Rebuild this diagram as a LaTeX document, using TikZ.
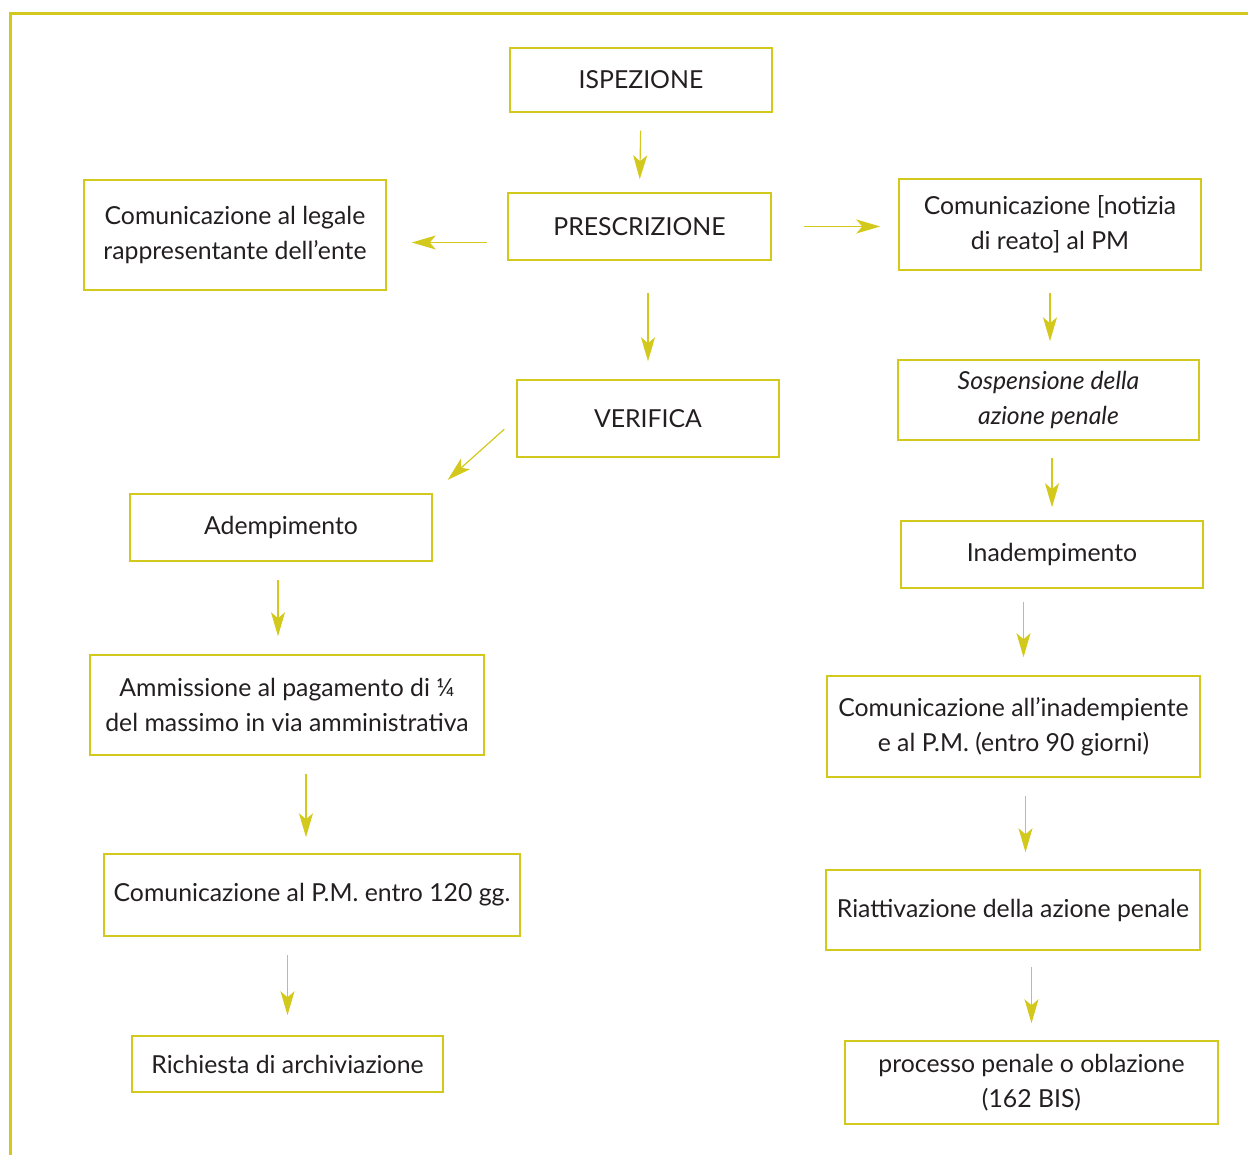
\documentclass[tikz,border=0pt]{standalone}
\usepackage{fontspec}
\setmainfont{Lato}
\usetikzlibrary{arrows.meta}
\definecolor{lime}{RGB}{210,201,28}
\definecolor{ink}{RGB}{35,31,32}

\begin{document}
\begin{tikzpicture}[x=0.5pt,y=-0.5pt,
  box/.style={draw=lime,line width=0.75pt,align=center,inner sep=0pt,text=ink,
    font=\fontsize{12.4}{17.5}\selectfont},
  arr/.style={draw=lime,line width=0.6pt,-{Stealth[length=12pt,width=7pt,inset=3pt]},
    shorten <=9pt,shorten >=9pt}]
\useasboundingbox (0,0) rectangle (1248,1155);
\draw[lime,line width=1.35pt] (10.5,1155) -- (10.5,13.7) -- (1248,13.7);

\node[box,minimum width=131pt,minimum height=32pt] (isp) at (641,80) {ISPEZIONE};
\node[box,minimum width=131.5pt,minimum height=33.5pt] (presc) at (639.5,226.5) {PRESCRIZIONE};
\node[box,minimum width=151pt,minimum height=55pt] (leg) at (235,235) {Comunicazione al legale\\rappresentante dell’ente};
\node[box,minimum width=151pt,minimum height=45.5pt] (pm) at (1050,224.5) {Comunicazione [notizia\\di reato] al PM};
\node[box,minimum width=131pt,minimum height=38.5pt] (ver) at (648,418.5) {VERIFICA};
\node[box,minimum width=150.5pt,minimum height=40pt] (sosp) at (1048.5,400) {\itshape Sospensione della\\\itshape azione penale};
\node[box,minimum width=151pt,minimum height=33.5pt] (adem) at (281,527.5) {Adempimento};
\node[box,minimum width=151pt,minimum height=33.5pt] (inad) at (1052,554.5) {Inadempimento};
\node[box,minimum width=197pt,minimum height=50pt] (amm) at (287,705) {Ammissione al pagamento di ¼\\del massimo in via amministrativa};
\node[box,minimum width=186.5pt,minimum height=50.5pt] (cinad) at (1013.5,726.5) {Comunicazione all’inadempiente\\e al P.M. (entro 90 giorni)};
\node[box,minimum width=208pt,minimum height=41pt] (pm120) at (312,895) {Comunicazione al P.M. entro 120 gg.};
\node[box,minimum width=187pt,minimum height=40pt] (riatt) at (1013,910) {Riattivazione della azione penale};
\node[box,minimum width=155.5pt,minimum height=28pt] (arch) at (287.5,1064) {Richiesta di archiviazione};
\node[box,minimum width=186.5pt,minimum height=41.5pt] (proc) at (1031.5,1082.5) {processo penale o oblazione\\(162 BIS)};

% left branch and top
\draw[arr,shorten >=6.5pt] (isp.south) -- (presc.north);
\draw[arr,shorten <=10pt,shorten >=12.5pt] ([yshift=-8pt]presc.west) -- ([yshift=-8pt]presc.west -| leg.east);
\draw[arr,shorten <=16pt] (presc.east) -- (presc.east -| pm.west);
\draw[arr,shorten <=16pt] (presc.south -| ver.north) -- (ver.north);
\draw[arr,shorten <=8pt,shorten >=10pt] (ver.west) -- (adem.north east);
\draw[arr] ([xshift=-1.5pt]adem.south) -- ([xshift=-1.5pt]adem.south |- amm.north);
\draw[arr,shorten >=8pt] ([xshift=-3pt]amm.south -| pm120.north) -- ([xshift=-3pt]pm120.north);
\draw[arr,shorten >=10pt] (pm120.south -| arch.north) -- (arch.north);
% right branch
\draw[arr,shorten <=11pt] (pm.south) -- (pm.south |- sosp.north);
\draw[arr,shorten <=8.5pt,shorten >=6.5pt] (sosp.south -| inad.north) -- (inad.north);
\draw[arr,shorten <=6.5pt] ([xshift=5pt]cinad.north |- inad.south) -- ([xshift=5pt]cinad.north);
\draw[arr,shorten >=8.5pt] ([xshift=6pt]cinad.south) -- ([xshift=6pt]cinad.south |- riatt.north);
\draw[arr,shorten <=8pt,shorten >=8.5pt] (riatt.south -| proc.north) -- (proc.north);
\end{tikzpicture}
\end{document}
